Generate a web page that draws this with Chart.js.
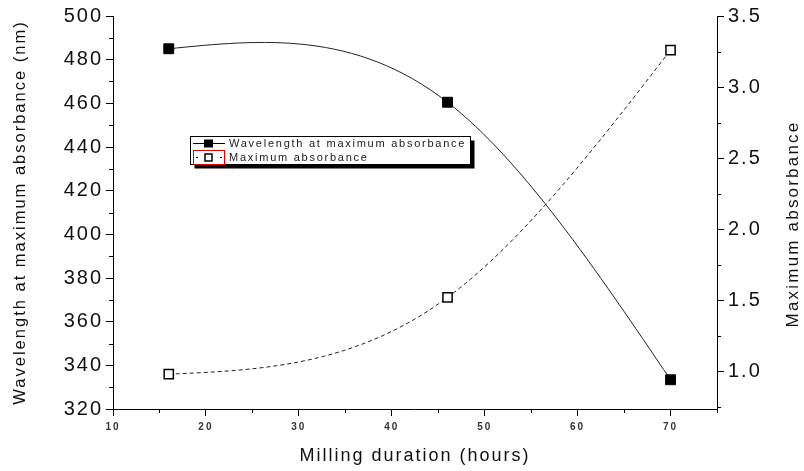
<!DOCTYPE html>
<html>
<head>
<meta charset="utf-8">
<script src="https://cdn.jsdelivr.net/npm/chart.js@4.4.1/dist/chart.umd.min.js"></script>
<style>
  html, body { margin: 0; padding: 0; background: #fff; }
  #wrap { width: 804px; height: 471px; }
</style>
</head>
<body>
<div id="wrap"><canvas id="chart" width="804" height="471"></canvas></div>
<script>
// milling time (h) and the two measured quantities
const millingHours = [16, 46, 70];
const wavelengthNm = [485, 460.5, 333.4];
const absorbanceMax = [0.98, 1.52, 3.26];

const seriesNames = ['Wavelength at maximum absorbance', 'Maximum absorbance'];

const hourTicks = [10, 20, 30, 40, 50, 60, 70];
const hourMinorTicks = [15, 25, 35, 45, 55, 65, 75];
const wavelengthTicks = [320, 340, 360, 380, 400, 420, 440, 460, 480, 500];
const wavelengthMinorTicks = [330, 350, 370, 390, 410, 430, 450, 470, 490];
const absorbanceTicks = [1.0, 1.5, 2.0, 2.5, 3.0, 3.5];
const absorbanceMinorTicks = [0.75, 1.25, 1.75, 2.25, 2.75, 3.25];

const FONT = "'Liberation Sans', Arial, sans-serif";

// natural cubic spline through the points, returned as slopes at each node
function splineSlopes(xs, ys) {
  const n = xs.length;
  const h = [], M = new Array(n).fill(0);
  for (let i = 0; i < n - 1; i++) h.push(xs[i + 1] - xs[i]);
  if (n > 2) {
    // tridiagonal system for the inner second derivatives
    const a = [], b = [], c = [], d = [];
    for (let i = 1; i < n - 1; i++) {
      a.push(h[i - 1]);
      b.push(2 * (h[i - 1] + h[i]));
      c.push(h[i]);
      d.push(6 * ((ys[i + 1] - ys[i]) / h[i] - (ys[i] - ys[i - 1]) / h[i - 1]));
    }
    const m = b.length;
    for (let i = 1; i < m; i++) {
      const w = a[i] / b[i - 1];
      b[i] -= w * c[i - 1];
      d[i] -= w * d[i - 1];
    }
    const sol = new Array(m);
    sol[m - 1] = d[m - 1] / b[m - 1];
    for (let i = m - 2; i >= 0; i--) sol[i] = (d[i] - c[i] * sol[i + 1]) / b[i];
    for (let i = 0; i < m; i++) M[i + 1] = sol[i];
  }
  const segs = [];
  for (let i = 0; i < n - 1; i++) {
    const s = (ys[i + 1] - ys[i]) / h[i];
    segs.push({
      d0: s - h[i] * (2 * M[i] + M[i + 1]) / 6,
      d1: s + h[i] * (M[i] + 2 * M[i + 1]) / 6
    });
  }
  return { h, segs };
}

// connects each dataset with a smooth spline (Bezier form of the cubic pieces)
const splinePlugin = {
  id: 'splineLines',
  beforeDraw(chart) {
    // spaced-out lettering for every label the library draws
    chart.ctx.letterSpacing = '2px';
  },
  beforeDatasetsDraw(chart) {
    const ctx = chart.ctx;
    chart.data.datasets.forEach((ds, k) => {
      const meta = chart.getDatasetMeta(k);
      const xs = chart.scales[meta.xAxisID], ys = chart.scales[meta.yAxisID];
      const px = ds.data.map(p => p.x), py = ds.data.map(p => p.y);
      const { h, segs } = splineSlopes(px, py);
      ctx.save();
      ctx.beginPath();
      ctx.rect(chart.chartArea.left, chart.chartArea.top, chart.chartArea.width, chart.chartArea.height);
      ctx.clip();
      ctx.beginPath();
      ctx.strokeStyle = ds.splineColor;
      ctx.lineWidth = 1;
      ctx.setLineDash(ds.splineDash || []);
      ctx.moveTo(xs.getPixelForValue(px[0]), ys.getPixelForValue(py[0]));
      for (let i = 0; i < segs.length; i++) {
        const t = h[i] / 3;
        ctx.bezierCurveTo(
          xs.getPixelForValue(px[i] + t), ys.getPixelForValue(py[i] + t * segs[i].d0),
          xs.getPixelForValue(px[i + 1] - t), ys.getPixelForValue(py[i + 1] - t * segs[i].d1),
          xs.getPixelForValue(px[i + 1]), ys.getPixelForValue(py[i + 1])
        );
      }
      ctx.stroke();
      ctx.restore();
    });
  }
};

// minor ticks, rotated right-hand title and the boxed legend
const decorPlugin = {
  id: 'decor',
  afterDraw(chart) {
    const ctx = chart.ctx;
    const { x, y, y1 } = chart.scales;
    const area = chart.chartArea;
    ctx.save();
    ctx.strokeStyle = '#000';
    ctx.lineWidth = 1;
    ctx.beginPath();
    wavelengthMinorTicks.forEach(v => {
      const p = Math.round(y.getPixelForValue(v)) + 0.5;
      ctx.moveTo(area.left - 4, p); ctx.lineTo(area.left, p);
    });
    absorbanceMinorTicks.forEach(v => {
      const p = Math.round(y1.getPixelForValue(v)) + 0.5;
      ctx.moveTo(area.right, p); ctx.lineTo(area.right + 4, p);
    });
    hourMinorTicks.forEach(v => {
      const p = Math.round(x.getPixelForValue(v)) + 0.5;
      ctx.moveTo(p, area.bottom); ctx.lineTo(p, area.bottom + 4);
    });
    ctx.stroke();

    // right axis title, reading bottom to top
    ctx.save();
    ctx.translate(793, 224);
    ctx.rotate(-Math.PI / 2);
    ctx.font = '17px ' + FONT;
    ctx.letterSpacing = '2.2px';
    ctx.fillStyle = '#111';
    ctx.textAlign = 'center';
    ctx.textBaseline = 'middle';
    ctx.fillText('Maximum absorbance', 0, 0);
    ctx.restore();

    // legend box with drop shadow
    const bx = 190.5, by = 136.5, bw = 280, bh = 28;
    ctx.fillStyle = '#000';
    ctx.fillRect(bx + 4, by + 4, bw, bh);
    ctx.fillStyle = '#fff';
    ctx.fillRect(bx, by, bw, bh);
    ctx.strokeRect(bx, by, bw, bh);

    const rows = [by + 7, by + 21];
    // row 1: solid line with filled square
    ctx.beginPath();
    ctx.moveTo(193, rows[0]); ctx.lineTo(225, rows[0]);
    ctx.stroke();
    ctx.fillStyle = '#000';
    ctx.fillRect(204, rows[0] - 4, 9, 8);
    // row 2: dashed line with open square inside a red frame
    ctx.fillRect(196, rows[1] - 0.5, 2, 1);
    ctx.fillRect(220, rows[1] - 0.5, 2, 1);
    ctx.lineWidth = 1.5;
    ctx.strokeRect(205, rows[1] - 3.5, 7, 7);
    ctx.lineWidth = 1;
    ctx.strokeStyle = '#e00000';
    ctx.strokeRect(193.5, rows[1] - 7, 31, 14);

    ctx.fillStyle = '#1a1a1a';
    ctx.font = '11px ' + FONT;
    ctx.letterSpacing = '1.75px';
    ctx.textBaseline = 'middle';
    ctx.textAlign = 'left';
    ctx.fillText(chart.data.datasets[0].label, 229, rows[0]);
    ctx.fillText(chart.data.datasets[1].label, 229, rows[1]);
    ctx.restore();
    ctx.letterSpacing = '0px';
  }
};

const axisGrid = { drawOnChartArea: false, drawTicks: true, tickLength: 7, color: '#000', tickColor: '#000' };
const axisBorder = { display: true, color: '#000', width: 1 };

new Chart(document.getElementById('chart'), {
  type: 'line',
  data: {
    datasets: [{
      label: seriesNames[0],
      data: millingHours.map((h, i) => ({ x: h, y: wavelengthNm[i] })),
      yAxisID: 'y',
      showLine: false,
      splineColor: '#222',
      pointStyle: 'rect',
      pointRadius: 7,
      pointBackgroundColor: '#000',
      pointBorderColor: '#000',
      pointBorderWidth: 1
    }, {
      label: seriesNames[1],
      data: millingHours.map((h, i) => ({ x: h, y: absorbanceMax[i] })),
      yAxisID: 'y1',
      showLine: false,
      splineColor: '#222',
      splineDash: [4, 3],
      pointStyle: 'rect',
      pointRadius: 6.5,
      pointBackgroundColor: '#fff',
      pointBorderColor: '#000',
      pointBorderWidth: 1.5
    }]
  },
  options: {
    responsive: false,
    animation: false,
    events: [],
    layout: { padding: { top: 13, left: 0, right: 0, bottom: 0 } },
    plugins: { legend: { display: false }, tooltip: { enabled: false } },
    scales: {
      x: {
        type: 'linear',
        position: 'bottom',
        min: 10, max: 75,
        afterBuildTicks: s => { s.ticks = hourTicks.map(v => ({ value: v })); },
        afterFit: s => { s.height = 62; },
        grid: axisGrid,
        border: axisBorder,
        ticks: { color: '#333', font: { family: FONT, size: 10, weight: 'bold' }, padding: 5 },
        title: { display: true, text: 'Milling duration (hours)', color: '#111',
                 font: { family: FONT, size: 18 }, padding: { top: 2 } }
      },
      y: {
        type: 'linear',
        position: 'left',
        min: 320, max: 500,
        afterBuildTicks: s => { s.ticks = wavelengthTicks.map(v => ({ value: v })); },
        afterFit: s => { s.width = 113; },
        grid: axisGrid,
        border: axisBorder,
        ticks: { color: '#111', font: { family: FONT, size: 20 }, padding: 3 },
        title: { display: true, text: 'Wavelength at maximum absorbance (nm)', color: '#111',
                 font: { family: FONT, size: 16.5 }, padding: { top: 11, bottom: 0 } }
      },
      y1: {
        type: 'linear',
        position: 'right',
        min: 0.735, max: 3.5,
        afterBuildTicks: s => { s.ticks = absorbanceTicks.map(v => ({ value: v })); },
        afterFit: s => { s.width = 87; },
        grid: axisGrid,
        border: axisBorder,
        ticks: { color: '#111', font: { family: FONT, size: 20 }, padding: 4,
                 callback: v => v.toFixed(1) }
      }
    }
  },
  plugins: [splinePlugin, decorPlugin]
});
</script>
</body>
</html>
